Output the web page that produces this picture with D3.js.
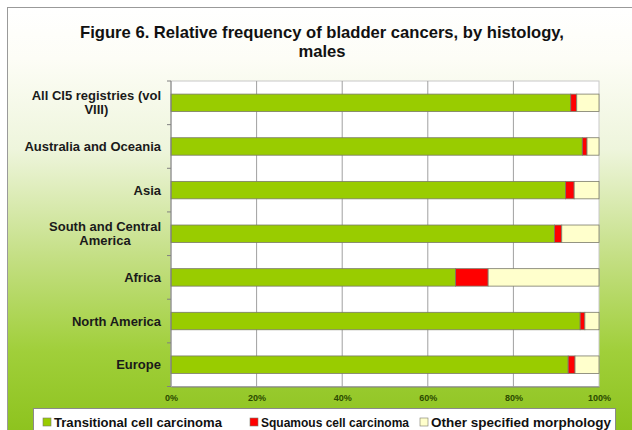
<!DOCTYPE html>
<html>
<head>
<meta charset="utf-8">
<script src="https://cdn.jsdelivr.net/npm/d3@7"></script>
<style>
  html, body { margin: 0; padding: 0; background: #ffffff; }
  svg { display: block; font-family: "Liberation Sans", Arial, sans-serif; }
</style>
</head>
<body>
<svg id="chart" width="632" height="430"></svg>
<script>
// Regions, top to bottom
const categories = [
  "All CI5 registries (vol VIII)",
  "Australia and Oceania",
  "Asia",
  "South and Central America",
  "Africa",
  "North America",
  "Europe"
];
// Percent of cases by histology
const transitional = [93.4, 96.1, 92.2, 89.6, 66.5, 95.6, 92.8];
const squamous     = [1.4, 1.1, 2.0, 1.7, 7.6, 1.1, 1.6];
const other        = [5.2, 2.8, 5.8, 8.7, 25.9, 3.3, 5.6];

const seriesNames = ["Transitional cell carcinoma", "Squamous cell carcinoma", "Other specified morphology"];
const seriesColors = ["#99cc00", "#ff0000", "#ffffcc"];
const xTicks = [0, 20, 40, 60, 80, 100];

// Wrapped category labels
const labelLines = {
  "All CI5 registries (vol VIII)": ["All CI5 registries (vol", "VIII)"],
  "South and Central America": ["South and Central", "America"]
};

const svg = d3.select("#chart");
const W = 632, H = 430;

// Background gradient panel
const defs = svg.append("defs");
const grad = defs.append("linearGradient")
  .attr("id", "bg").attr("x1", 0).attr("y1", 0).attr("x2", 0).attr("y2", 1);
[[0, "#ffffff"], [0.12, "#fdfdf6"], [0.33, "#eef5dc"], [0.58, "#c4df84"], [0.8, "#a0cf3a"], [1, "#8cc21c"]]
  .forEach(([o, c]) => grad.append("stop").attr("offset", o).attr("stop-color", c));

svg.append("rect").attr("x", 7.5).attr("y", 7.5).attr("width", W).attr("height", H)
  .attr("fill", "url(#bg)").attr("stroke", "#9a9a9a").attr("stroke-width", 1);

// Title
const title = svg.append("text").attr("text-anchor", "middle")
  .attr("font-size", 16.6).attr("font-weight", "bold").attr("fill", "#111");
title.append("tspan").attr("x", 322).attr("y", 38).text("Figure 6. Relative frequency of bladder cancers, by histology,");
title.append("tspan").attr("x", 322).attr("y", 57).text("males");

// Plot area
const plot = { left: 171, right: 599, top: 81, bottom: 386.5 };

const x = d3.scaleLinear().domain([0, 100]).range([plot.left, plot.right]);
const y = d3.scaleBand().domain(categories).range([plot.top, plot.bottom])
  .paddingInner(0.6).paddingOuter(0.3);

svg.append("rect")
  .attr("x", plot.left).attr("y", plot.top)
  .attr("width", plot.right - plot.left).attr("height", plot.bottom - plot.top)
  .attr("fill", "#ffffff").attr("stroke", "#c8c8c8");

// Vertical gridlines
svg.append("g").selectAll("line").data(xTicks.slice(1, -1)).join("line")
  .attr("x1", d => x(d)).attr("x2", d => x(d))
  .attr("y1", plot.top).attr("y2", plot.bottom)
  .attr("stroke", "#a0a0a0").attr("stroke-width", 1);

// Stacked bars
const rows = categories.map((c, i) => ({ cat: c, values: [transitional[i], squamous[i], other[i]] }));
const stack = d3.stack().keys([0, 1, 2]).value((d, k) => d.values[k]);
const stacked = stack(rows);

svg.append("g").selectAll("g").data(stacked).join("g")
  .attr("fill", (d, i) => seriesColors[i])
  .selectAll("rect").data(d => d).join("rect")
  .attr("x", d => x(d[0]))
  .attr("width", d => Math.max(0, x(d[1]) - x(d[0])))
  .attr("y", d => y(d.data.cat))
  .attr("height", y.bandwidth())
  .attr("stroke", "#7a7a6a").attr("stroke-width", 0.8);

// Category axis (left) with ticks between bands
const yAxisG = svg.append("g");
yAxisG.append("line").attr("x1", plot.left).attr("x2", plot.left)
  .attr("y1", plot.top).attr("y2", plot.bottom).attr("stroke", "#808080");
const step = y.step();
d3.range(categories.length + 1).forEach(i => {
  const yy = plot.top + i * step;
  yAxisG.append("line").attr("x1", plot.left - 4).attr("x2", plot.left)
    .attr("y1", yy).attr("y2", yy).attr("stroke", "#808080");
});

// Category labels: single lines right-aligned, wrapped blocks centred on their widest line
const labelRight = 161;
const labels = svg.append("g").attr("font-size", 13).attr("font-weight", "bold")
  .attr("fill", "#1a1a1a");
categories.forEach(c => {
  const lines = labelLines[c] || [c];
  const cy = y(c) + y.bandwidth() / 2;
  const t = labels.append("text");
  const spans = lines.map((ln, j) => {
    const off = (j - (lines.length - 1) / 2) * 14;
    return t.append("tspan").attr("y", cy + off + 4.5).text(ln);
  });
  if (lines.length === 1) {
    t.attr("text-anchor", "end");
    spans[0].attr("x", labelRight);
  } else {
    const widest = d3.max(spans, s => s.node().getComputedTextLength());
    t.attr("text-anchor", "middle");
    spans.forEach(s => s.attr("x", labelRight - widest / 2));
  }
});

// Value axis (bottom)
const xAxis = d3.axisBottom(x).tickValues(xTicks).tickFormat(d => d + "%").tickSize(0).tickPadding(8);
const xg = svg.append("g").attr("transform", `translate(0,${plot.bottom})`).call(xAxis);
xg.select(".domain").attr("stroke", "#808080");
xg.selectAll("text").attr("font-size", 9).attr("font-weight", "bold")
  .attr("fill", "#2b4a00").attr("font-family", "'Liberation Sans', Arial, sans-serif");

// Legend
const lg = svg.append("g");
lg.append("rect").attr("x", 33.5).attr("y", 408.5).attr("width", 582).attr("height", 30)
  .attr("fill", "#ffffff").attr("stroke", "#8a8a8a");
const legendX = [43, 250, 420];
const legendTextWidth = [168, 148, 180];
seriesNames.forEach((n, i) => {
  lg.append("rect").attr("x", legendX[i]).attr("y", 418).attr("width", 8).attr("height", 8)
    .attr("fill", seriesColors[i]).attr("stroke", "#7a7a6a").attr("stroke-width", 0.6);
  lg.append("text").attr("x", legendX[i] + 11).attr("y", 427)
    .attr("font-size", 13).attr("font-weight", "bold").attr("fill", "#111")
    .attr("textLength", legendTextWidth[i]).attr("lengthAdjust", "spacingAndGlyphs")
    .text(n);
});
</script>
</body>
</html>
